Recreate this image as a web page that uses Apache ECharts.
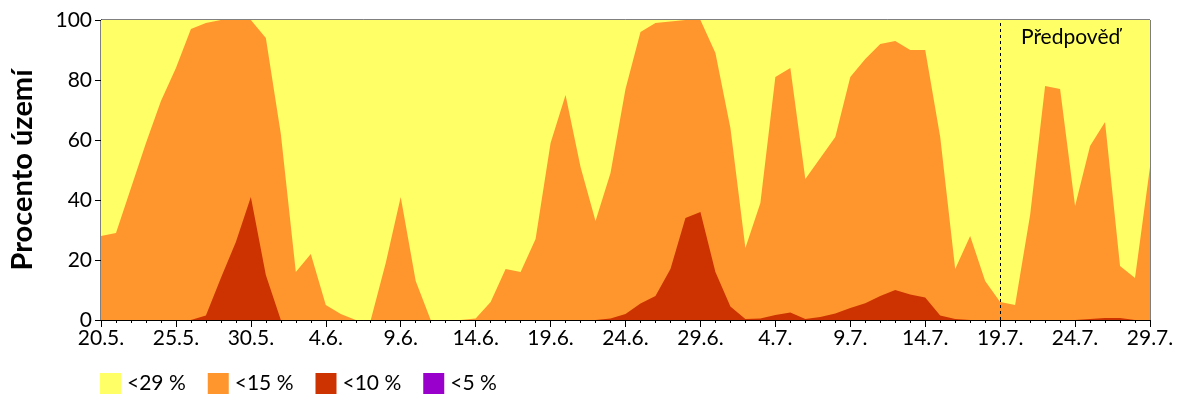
<!DOCTYPE html>
<html>
<head>
<meta charset="utf-8">
<script src="https://cdn.jsdelivr.net/npm/echarts@6/dist/echarts.min.js"></script>
<style>
  html, body { margin: 0; padding: 0; background: #fff; }
  #chart { width: 1200px; height: 400px; }
</style>
</head>
<body>
<div id="chart"></div>
<script>
const FONT = 'Lato';

// one category per day, 20.5. – 29.7.
const days = [
  '20.5.', '21.5.', '22.5.', '23.5.', '24.5.', '25.5.', '26.5.', '27.5.', '28.5.', '29.5.', '30.5.', '31.5.',
  '1.6.', '2.6.', '3.6.', '4.6.', '5.6.', '6.6.', '7.6.', '8.6.', '9.6.', '10.6.', '11.6.', '12.6.', '13.6.',
  '14.6.', '15.6.', '16.6.', '17.6.', '18.6.', '19.6.', '20.6.', '21.6.', '22.6.', '23.6.', '24.6.', '25.6.',
  '26.6.', '27.6.', '28.6.', '29.6.', '30.6.', '1.7.', '2.7.', '3.7.', '4.7.', '5.7.', '6.7.', '7.7.', '8.7.',
  '9.7.', '10.7.', '11.7.', '12.7.', '13.7.', '14.7.', '15.7.', '16.7.', '17.7.', '18.7.', '19.7.', '20.7.',
  '21.7.', '22.7.', '23.7.', '24.7.', '25.7.', '26.7.', '27.7.', '28.7.', '29.7.'
];
const forecastFrom = '19.7.';

const below29 = days.map(() => 100);
const below15 = [
  28, 29, 44, 59, 73, 84, 97, 99, 100, 100, 100, 94, 62, 16, 22, 5, 2, 0, 0, 19,
  41, 13, 0, 0, 0, 0.5, 6, 17, 16, 27, 59, 75, 51, 33, 49, 77, 96, 99, 99.5, 100,
  100, 89, 64, 24, 39, 81, 84, 47, 54, 61, 81, 87, 92, 93, 90, 90, 61, 17, 28, 13,
  6, 5, 35, 78, 77, 38, 58, 66, 18, 14, 51
];
const below10 = [
  0, 0, 0, 0, 0, 0, 0, 1.5, 14, 26, 41, 15, 0, 0, 0, 0, 0, 0, 0, 0,
  0, 0, 0, 0, 0, 0, 0, 0, 0, 0, 0, 0, 0, 0, 0.5, 2, 5.5, 8, 17, 34,
  36, 16, 4.5, 0.3, 0.5, 1.7, 2.5, 0.3, 1, 2.2, 4, 5.6, 8, 10, 8.5, 7.5, 1.5, 0.3, 0, 0,
  0, 0, 0, 0, 0, 0, 0.3, 0.7, 0.7, 0, 0.5
];
const below5 = days.map(() => 0);

const seriesNames = ['<29 %', '<15 %', '<10 %', '<5 %'];
const colors = ['#ffff66', '#ff962d', '#cc3300', '#9900cc'];

const toPoints = (arr) => arr.map((v, i) => [i, v]);

const makeSeries = (name, values, color) => ({
  name,
  type: 'line',
  data: toPoints(values),
  symbol: 'none',
  lineStyle: { width: 0 },
  areaStyle: { color, opacity: 1 },
  itemStyle: { color },
  silent: true,
  animation: false,
});

const series = [
  makeSeries(seriesNames[0], below29, colors[0]),
  makeSeries(seriesNames[1], below15, colors[1]),
  makeSeries(seriesNames[2], below10, colors[2]),
  makeSeries(seriesNames[3], below5, colors[3]),
];

// forecast divider
series[3].markLine = {
  silent: true,
  symbol: 'none',
  label: { show: false },
  lineStyle: { type: [3, 3], color: '#000', width: 1 },
  data: [{ xAxis: days.indexOf(forecastFrom) }],
  animation: false,
};

const chart = echarts.init(document.getElementById('chart'), null, { renderer: 'canvas' });

chart.setOption({
  animation: false,
  grid: {
    left: 100, right: 50, top: 20, bottom: 80,
    show: true, borderColor: '#000', borderWidth: 1, backgroundColor: 'transparent',
  },
  xAxis: {
    type: 'value',
    min: 0,
    max: days.length - 1,
    interval: 5,
    axisLine: { show: true, lineStyle: { color: '#000' } },
    axisTick: { show: true, length: 7, lineStyle: { color: '#000' } },
    minorTick: { show: true, splitNumber: 5, length: 3, lineStyle: { color: '#000' } },
    splitLine: { show: false },
    axisLabel: {
      color: '#000', fontFamily: FONT, fontSize: 21, margin: 8,
      formatter: (v) => days[v] || '',
    },
  },
  yAxis: {
    type: 'value',
    min: 0,
    max: 100,
    interval: 20,
    name: 'Procento území',
    nameLocation: 'middle',
    nameGap: 64,
    nameTextStyle: { color: '#000', fontFamily: FONT, fontSize: 29, fontWeight: 'bold' },
    axisLine: { show: true, lineStyle: { color: '#000' } },
    axisTick: { show: true, length: 6, lineStyle: { color: '#000' } },
    splitLine: { show: false },
    axisLabel: { color: '#000', fontFamily: FONT, fontSize: 21, margin: 9 },
  },
  legend: {
    data: seriesNames,
    left: 100,
    top: 373,
    icon: 'rect',
    itemWidth: 21,
    itemHeight: 21,
    itemGap: 22,
    selectedMode: false,
    padding: 0,
    textStyle: { color: '#000', fontFamily: FONT, fontSize: 21, width: 60, padding: [0, 0, 0, 1] },
  },
  graphic: [{
    type: 'text',
    left: 1021,
    top: 27,
    z: 100,
    silent: true,
    style: { text: 'Předpověď', fill: '#000', font: '21px ' + FONT },
  }],
  series,
});
</script>
</body>
</html>
